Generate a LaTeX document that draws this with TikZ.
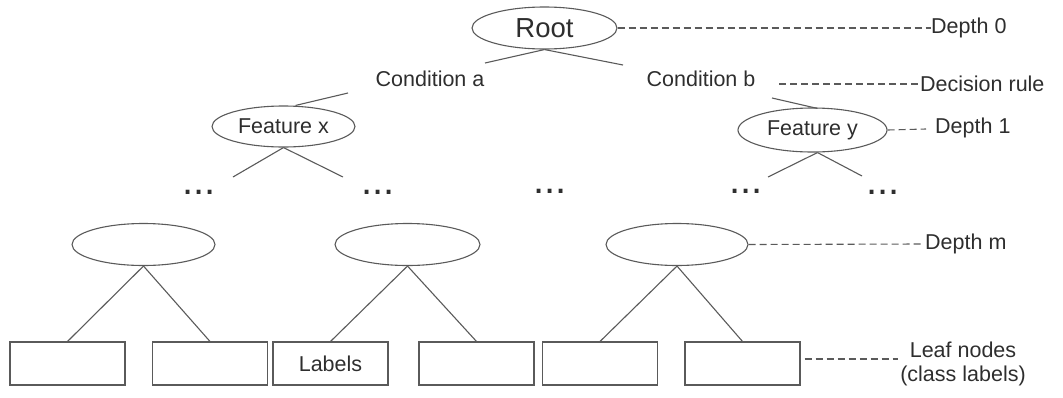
\documentclass[tikz,border=0pt]{standalone}
\usepackage{fontspec}
\setmainfont{Liberation Sans}
\usetikzlibrary{shapes.geometric,calc}
\definecolor{ln}{HTML}{5A5A5A}
\definecolor{tx}{HTML}{2E2E2E}
\tikzset{
  ell/.style={ellipse,draw=ln,line width=1.1pt,inner sep=0pt,text=tx,font=\fontsize{21.5}{24}\selectfont},
  leaf/.style={rectangle,draw=ln,line width=1.1pt,minimum width=115pt,minimum height=43pt,inner sep=0pt,text=tx,font=\fontsize{21.5}{24}\selectfont},
  lbl/.style={text=tx,inner sep=0pt,font=\fontsize{21.5}{24}\selectfont},
  dotz/.style={text=tx,inner sep=0pt,anchor=base,font=\fontsize{40}{42}\selectfont},
  edge/.style={draw=ln,line width=1.1pt},
  guide/.style={draw=ln,line width=1.1pt,dash pattern=on 7pt off 4pt},
}
\begin{document}
\begin{tikzpicture}[x=1pt,y=-1pt]
\useasboundingbox (0,0) rectangle (1063,397);
% tree nodes
\node[ell,minimum width=145pt,minimum height=42pt,font=\fontsize{27.5}{30}\selectfont] (root) at (544.5,28) {Root};
\node[lbl] (conda) at (430,79) {Condition a};
\node[lbl] (condb) at (701,79) {Condition b};
\node[ell,minimum width=143pt,minimum height=41pt] (featx) at (283.5,126.5) {Feature x};
\node[ell,minimum width=149pt,minimum height=44pt] (featy) at (812.5,130) {Feature y};
% dots
\node[dotz] (d1) at (199,194) {...};
\node[dotz] (d2) at (378,194) {...};
\node[dotz] (d3) at (550,193) {...};
\node[dotz] (d4) at (746,193) {...};
\node[dotz] (d5) at (883,194) {...};
% depth m
\node[ell,minimum width=143pt,minimum height=42pt] (m1) at (143.5,244.5) {};
\node[ell,minimum width=145pt,minimum height=42pt] (m2) at (407.5,244.5) {};
\node[ell,minimum width=142pt,minimum height=42pt] (m3) at (677,244.5) {};
% leaves
\node[leaf] (l1) at (67.5,363.5) {};
\node[leaf] (l2) at (210,363.5) {};
\node[leaf] (l3) at (330.5,363.5) {Labels};
\node[leaf] (l4) at (476.5,363.5) {};
\node[leaf] (l5) at (600,363.5) {};
\node[leaf] (l6) at (742.5,363.5) {};
% free ends
\coordinate (ra) at (485,63);
\coordinate (rb) at (623,65);
\coordinate (as) at (348,93);
\coordinate (bs) at (772,98);
\coordinate (xl) at (233,177);
\coordinate (xr) at (343,177);
\coordinate (yl) at (768,177);
\coordinate (yr) at (862,176);
% edges
\draw[edge] (root.south) -- (ra);
\draw[edge] (root.south) -- (rb);
\draw[edge] (as) -- ($(featx.north)+(12,0)$);
\draw[edge] (bs) -- ($(featy.north)+(5,1)$);
\draw[edge] (featx.south) -- (xl);
\draw[edge] (featx.south) -- (xr);
\draw[edge] ($(featy.south)+(5,0)$) -- (yl);
\draw[edge] ($(featy.south)+(5,0)$) -- (yr);
\draw[edge] (m1.south) -- (l1.north);
\draw[edge] (m1.south) -- (l2.north);
\draw[edge] (m2.south) -- (l3.north);
\draw[edge] (m2.south) -- (l4.north);
\draw[edge] (m3.south) -- (l5.north);
\draw[edge] (m3.south) -- (l6.north);
% right-hand labels
\node[lbl,anchor=west] (t0) at (931,28) {Depth 0};
\node[lbl,anchor=west] (tr) at (920,84) {Decision rule};
\node[lbl,anchor=west] (t1) at (935,128) {Depth 1};
\node[lbl,anchor=west] (tm) at (925,244) {Depth m};
\node[lbl,align=center] (tl) at (963,364) {Leaf nodes\\(class labels)};
\coordinate (rs) at (779,84);
\coordinate (t1e) at (926,129);
\coordinate (tle) at (898,359);
\coordinate (tme) at (922,244);
\draw[guide] (root.east) -- (t0.west);
\draw[guide] (rs) -- (tr.west);
\draw[guide] (featy.east) -- (t1e);
\draw[guide] (m3.east) -- (tme);
\draw[guide] (l6.east) ++(4,-4.5) -- (tle);
\end{tikzpicture}
\end{document}
